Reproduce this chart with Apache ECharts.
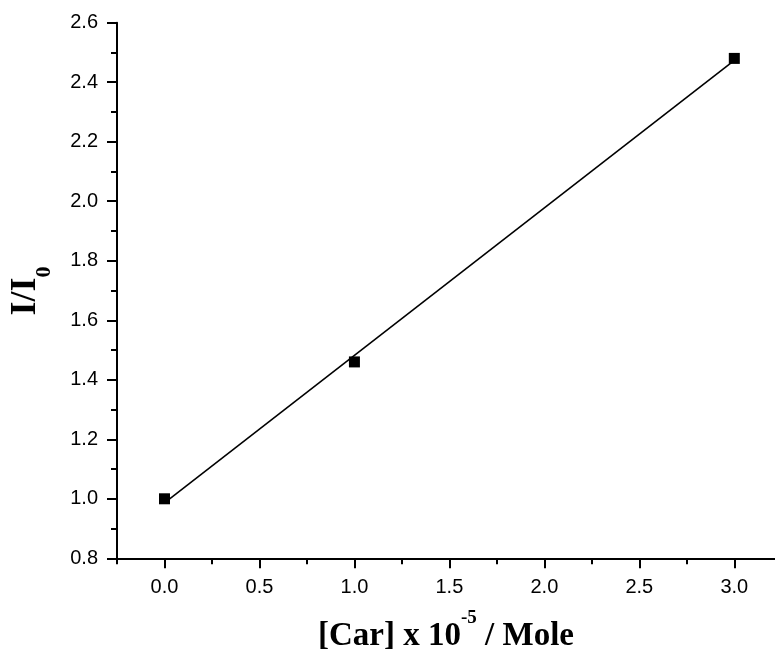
<!DOCTYPE html>
<html>
<head>
<meta charset="utf-8">
<script src="https://cdn.jsdelivr.net/npm/echarts@6/dist/echarts.min.js"></script>
<style>html,body{margin:0;padding:0;background:#fff}#c{width:775px;height:650px}</style>
</head>
<body>
<div id="c"></div>
<script>
// Data
var pointX = [0, 1, 3];
var pointY = [1.00, 1.46, 2.48];
var fitX = [0, 3];
var fitY = [0.986, 2.473];
var xMajorTicks = [0, 0.5, 1.0, 1.5, 2.0, 2.5, 3.0];
var xMinorTicks = [-0.25, 0.25, 0.75, 1.25, 1.75, 2.25, 2.75, 3.25];
var yTicks = [0.8, 1.0, 1.2, 1.4, 1.6, 1.8, 2.0, 2.2, 2.4, 2.6];

var chart = echarts.init(document.getElementById('c'), null, {renderer: 'canvas'});
var option = {
  animation: false,
  backgroundColor: '#fff',
  grid: {left: 117, top: 22.7, bottom: 91.7, right: -6.8, containLabel: false, outerBoundsMode: 'none'},
  xAxis: [{
    type: 'value', min: -0.25, max: 3.25, position: 'bottom',
    axisLine: {show: true, onZero: false, lineStyle: {color: '#000', width: 2}},
    axisTick: {show: true, inside: false, length: 10, customValues: xMajorTicks, lineStyle: {color: '#000', width: 2}},
    axisLabel: {show: true, margin: 19, customValues: xMajorTicks, fontFamily: 'Liberation Sans, Arial, sans-serif', fontSize: 20, color: '#000',
      formatter: function (v) { return v.toFixed(1); }},
    splitLine: {show: false}
  }, {
    type: 'value', min: -0.25, max: 3.25, position: 'bottom', gridIndex: 0,
    axisLine: {show: false, onZero: false},
    axisTick: {show: true, inside: false, length: 6, customValues: xMinorTicks, lineStyle: {color: '#000', width: 2}},
    axisLabel: {show: false},
    splitLine: {show: false}
  }],
  yAxis: {
    type: 'value', min: 0.8, max: 2.6, interval: 0.2,
    axisLine: {show: true, onZero: false, lineStyle: {color: '#000', width: 2}},
    axisTick: {show: true, inside: false, length: 10, customValues: yTicks, lineStyle: {color: '#000', width: 2}},
    minorTick: {show: true, splitNumber: 2, length: 6, lineStyle: {color: '#000', width: 2}},
    axisLabel: {show: true, margin: 19, customValues: yTicks, fontFamily: 'Liberation Sans, Arial, sans-serif', fontSize: 20, color: '#000',
      formatter: function (v) { return v.toFixed(1); }},
    splitLine: {show: false},
    minorSplitLine: {show: false}
  },
  graphic: [{
    type: 'text', x: 446, y: 636,
    style: {
      text: '{m|[Car] x 10}{s|-5}{m| / Mole}',
      align: 'center', verticalAlign: 'middle',
      rich: {
        m: {fontFamily: 'Liberation Serif, Times New Roman, serif', fontWeight: 'bold', fontSize: 33, lineHeight: 54, fill: '#000'},
        s: {fontFamily: 'Liberation Serif, Times New Roman, serif', fontWeight: 'bold', fontSize: 19, verticalAlign: 'top', fill: '#000'}
      }
    }
  }, {
    type: 'text', x: 25.5, y: 291, rotation: Math.PI / 2,
    style: {
      text: '{m|I/I}{s|0}',
      align: 'center', verticalAlign: 'middle',
      rich: {
        m: {fontFamily: 'Liberation Serif, Times New Roman, serif', fontWeight: 'bold', fontSize: 36, lineHeight: 60, fill: '#000'},
        s: {fontFamily: 'Liberation Serif, Times New Roman, serif', fontWeight: 'bold', fontSize: 22, verticalAlign: 'bottom', fill: '#000'}
      }
    }
  }],
  series: [{
    type: 'line', xAxisIndex: 0,
    data: fitX.map(function (x, i) { return [x, fitY[i]]; }),
    showSymbol: false, symbol: 'none',
    lineStyle: {color: '#000', width: 1.6},
    z: 2
  }, {
    type: 'scatter', xAxisIndex: 0,
    data: pointX.map(function (x, i) { return [x, pointY[i]]; }),
    symbol: 'rect', symbolSize: 11,
    itemStyle: {color: '#000', opacity: 1},
    z: 3
  }]
};
chart.setOption(option);
</script>
</body>
</html>
